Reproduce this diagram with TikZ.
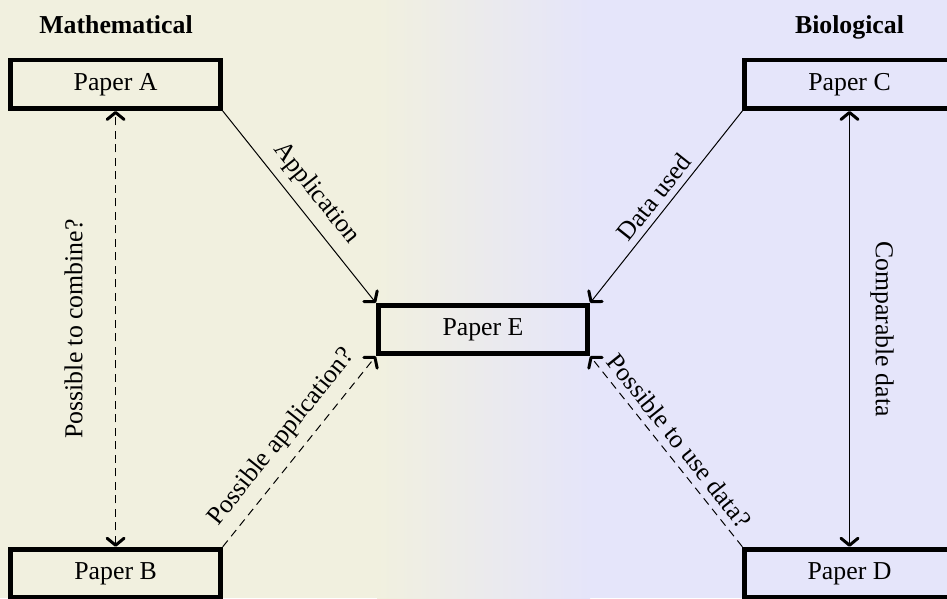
\documentclass[tikz,border=0pt]{standalone}
\usepackage{fontspec}
\setmainfont{Liberation Serif}
\usetikzlibrary{arrows.meta}
\definecolor{mathbg}{RGB}{241,240,223}
\definecolor{biobg}{RGB}{229,229,250}
\begin{document}
\begin{tikzpicture}[x=1pt,y=-1pt,
  txt/.style={font=\fontsize{25.8}{31}\selectfont},
  paper/.style={txt, draw, line width=4.8pt, minimum width=209.5pt,
    minimum height=48.5pt, inner sep=0pt},
  heading/.style={font=\fontsize{25.8}{31}\selectfont\bfseries, anchor=base},
  link/.style={line width=1pt},
  dashedlink/.style={link, dash pattern=on 8pt off 5.5pt},
  barb/.tip={Straight Barb[length=7pt,width=17pt,line width=3pt,round]},
  barbend/.style={-barb},
  barbboth/.style={barb-barb},
  lbl/.style={txt, midway, sloped}]
\useasboundingbox (0,0) rectangle (947,598);
\clip (0,0) rectangle (947,598);
% background: mathematical side, blend, biological side
\fill[mathbg] (0,0) rectangle (378,598);
\shade[left color=mathbg, right color=biobg] (377,0) rectangle (590,598);
\fill[biobg] (589,0) rectangle (947,598);

% column headings
\node[heading] (hm) at (116,33.3) {Mathematical};
\node[heading] (hb) at (849.5,33.3) {Biological};

% papers
\node[paper] (A) at (115.6,84.3) {Paper A};
\node[paper] (B) at (115.6,573.4) {Paper B};
\node[paper] (C) at (849.5,84.3) {Paper C};
\node[paper] (D) at (849.5,573.4) {Paper D};
\node[paper] (E) at (483,329.5) {Paper E};

% relations
\draw[link, barbend] (A.south east) -- node[lbl, above=6pt] {Application} (E.north west);
\draw[link, barbend] (C.south west) -- node[lbl, above=3pt] {Data used} (E.north east);
\draw[dashedlink, barbend] (B.north east) -- node[lbl, above=7pt] {Possible application?} (E.south west);
\draw[dashedlink, barbend] (D.north west) -- node[lbl, above=4pt] {Possible to use data?} (E.south east);
\draw[dashedlink, barbboth] (B.north) -- node[lbl, above=29pt] {Possible to combine?} (A.south);
\draw[link, barbboth] (C.south) -- node[lbl, above=17pt] {Comparable data} (D.north);
\end{tikzpicture}
\end{document}
